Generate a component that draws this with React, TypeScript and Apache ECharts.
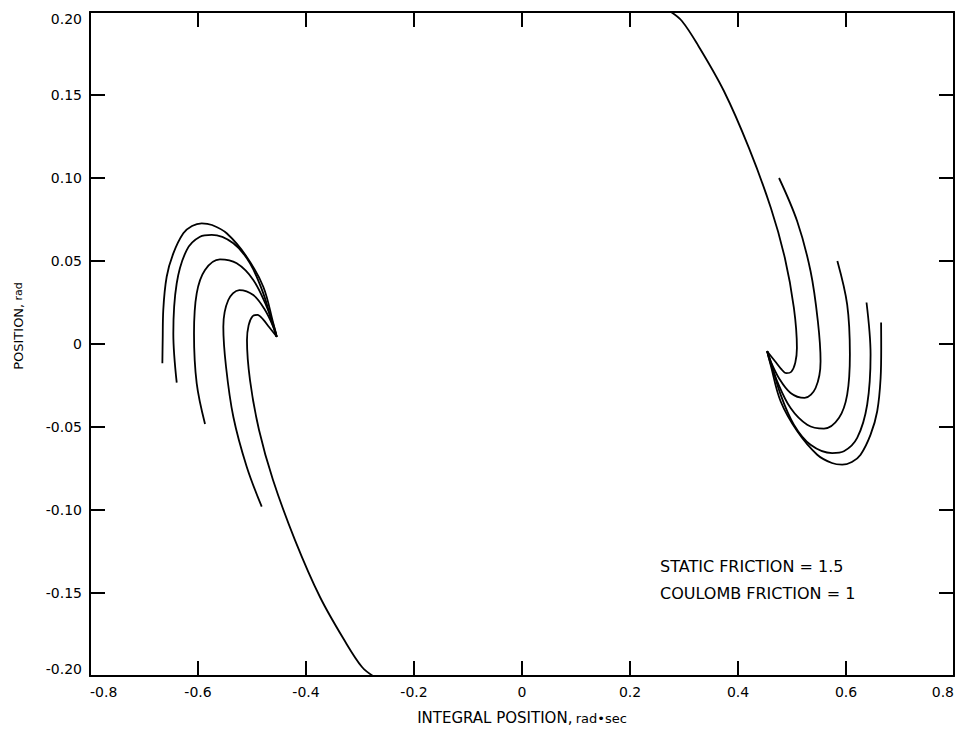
import React, { useEffect, useRef } from "react";
import * as echarts from "echarts";

// Left-hand trajectories (x = integral position, y = position)
const left1: number[][] = [
  [-0.666, -0.0116], [-0.6654, 0.0024], [-0.6643, 0.0205], [-0.658, 0.0405], [-0.6457, 0.0546],
  [-0.6272, 0.0667], [-0.6111, 0.0711], [-0.5931, 0.0727], [-0.5741, 0.0717], [-0.5469, 0.0667],
  [-0.51, 0.0526], [-0.4791, 0.0345], [-0.4606, 0.0125], [-0.4543, 0.0044],
];
const left2: number[][] = [
  [-0.6394, -0.0233], [-0.6457, 0.0064], [-0.6394, 0.0366], [-0.6209, 0.0566], [-0.5963, 0.0646],
  [-0.5746, 0.0657], [-0.5346, 0.0607], [-0.5037, 0.0486], [-0.4791, 0.0305], [-0.4606, 0.0104],
  [-0.4543, 0.0044],
];
const left3: number[][] = [
  [-0.587, -0.0482], [-0.6024, -0.0237], [-0.6074, 0.0064], [-0.6024, 0.0305], [-0.587, 0.0446],
  [-0.5593, 0.051], [-0.5283, 0.0486], [-0.4976, 0.0386], [-0.4728, 0.0225], [-0.4574, 0.0084],
  [-0.4543, 0.0044],
];
const left4: number[][] = [
  [-0.482, -0.098], [-0.5098, -0.0739], [-0.5346, -0.0438], [-0.5481, -0.0137], [-0.5531, 0.0104],
  [-0.5439, 0.0265], [-0.5235, 0.0325], [-0.4976, 0.0295], [-0.4759, 0.0205], [-0.4606, 0.0104],
  [-0.4543, 0.0044],
];
const left5: number[][] = [
  [-0.276, -0.2], [-0.2963, -0.1946], [-0.3259, -0.1801], [-0.3741, -0.1524], [-0.4204, -0.1181],
  [-0.4611, -0.0819], [-0.487, -0.0518], [-0.5037, -0.0217], [-0.5093, 0.0024], [-0.5063, 0.0112],
  [-0.499, 0.0167], [-0.4898, 0.0176], [-0.4795, 0.0148], [-0.4688, 0.0104], [-0.4537, 0.0042],
];

// Right-hand trajectories
const right1: number[][] = [
  [0.665, 0.013], [0.6652, -0.0024], [0.6641, -0.0205], [0.6578, -0.0405], [0.6455, -0.0546],
  [0.627, -0.0667], [0.6109, -0.0711], [0.5929, -0.0727], [0.5739, -0.0717], [0.5467, -0.0667],
  [0.5098, -0.0526], [0.4789, -0.0345], [0.4604, -0.0125], [0.4541, -0.0044],
];
const right2: number[][] = [
  [0.638, 0.025], [0.6455, -0.0064], [0.6392, -0.0366], [0.6207, -0.0566], [0.5961, -0.0646],
  [0.5744, -0.0657], [0.5344, -0.0607], [0.5035, -0.0486], [0.4789, -0.0305], [0.4604, -0.0104],
  [0.4541, -0.0044],
];
const right3: number[][] = [
  [0.584, 0.05], [0.6022, 0.0237], [0.6072, -0.0064], [0.6022, -0.0305], [0.5868, -0.0446],
  [0.5591, -0.051], [0.5281, -0.0486], [0.4974, -0.0386], [0.4726, -0.0225], [0.4572, -0.0084],
  [0.4541, -0.0044],
];
const right4: number[][] = [
  [0.476, 0.1], [0.5096, 0.0739], [0.5344, 0.0438], [0.5479, 0.0137], [0.5529, -0.0104],
  [0.5437, -0.0265], [0.5233, -0.0325], [0.4974, -0.0295], [0.4757, -0.0205], [0.4604, -0.0104],
  [0.4541, -0.0044],
];
const right5: number[][] = [
  [0.276, 0.2], [0.2961, 0.1946], [0.3257, 0.1801], [0.3739, 0.1524], [0.4202, 0.1181],
  [0.4609, 0.0819], [0.4868, 0.0518], [0.5035, 0.0217], [0.5091, -0.0024], [0.5061, -0.0112],
  [0.4988, -0.0167], [0.4896, -0.0176], [0.4793, -0.0148], [0.4686, -0.0104], [0.4535, -0.0042],
];

const curves = [left1, left2, left3, left4, left5, right1, right2, right3, right4, right5];

const xTicks = { min: -0.8, max: 0.8, interval: 0.2 };
const yTicks = { min: -0.2, max: 0.2, interval: 0.05 };

const xLabel = "INTEGRAL POSITION,";
const xUnit = "rad\u2022sec";
const yLabel = "POSITION,";
const yUnit = "rad";
const noteLines = ["STATIC FRICTION = 1.5", "COULOMB FRICTION = 1"];

const FONT = "DejaVu Sans";

export default function App() {
  const ref = useRef<HTMLDivElement>(null);
  useEffect(() => {
    if (!ref.current) return;
    const chart = echarts.init(ref.current, undefined, { renderer: "svg" });
    const axisLine = { show: true, onZero: false, lineStyle: { color: "#000", width: 2 } };
    const axisTick = { show: true, inside: true, length: 15, lineStyle: { color: "#000", width: 2 } };
    const fmtX = (v: number) => (Math.abs(v) < 1e-9 ? "0" : v.toFixed(1));
    const fmtY = (v: number) => (Math.abs(v) < 1e-9 ? "0" : v.toFixed(2));
    chart.setOption({
      animation: false,
      backgroundColor: "#fff",
      grid: { left: 90, right: 6, top: 12, bottom: 54, containLabel: false },
      xAxis: [
        {
          type: "value", position: "bottom", ...xTicks,
          axisLine, axisTick, splitLine: { show: false },
          axisLabel: {
            formatter: fmtX, color: "#000", fontFamily: FONT, fontSize: 14, margin: 9,
            alignMinLabel: "left", alignMaxLabel: "right",
          },
        },
        {
          type: "value", position: "top", ...xTicks,
          axisLine, axisTick, splitLine: { show: false }, axisLabel: { show: false },
        },
      ],
      yAxis: [
        {
          type: "value", position: "left", ...yTicks,
          axisLine, axisTick, splitLine: { show: false },
          axisLabel: {
            formatter: fmtY, color: "#000", fontFamily: FONT, fontSize: 14, margin: 8,
            verticalAlignMinLabel: "bottom", verticalAlignMaxLabel: "top",
          },
        },
        {
          type: "value", position: "right", ...yTicks,
          axisLine, axisTick, splitLine: { show: false }, axisLabel: { show: false },
        },
      ],
      series: curves.map((c) => ({
        type: "line",
        data: c,
        showSymbol: false,
        smooth: 0.35,
        clip: true,
        lineStyle: { color: "#000", width: 1.8 },
        xAxisIndex: 0,
        yAxisIndex: 0,
      })),
      graphic: [
        {
          type: "text", x: 522, y: 718,
          style: {
            text: `{a|${xLabel}} {b|${xUnit}}`, align: "center", verticalAlign: "middle",
            rich: {
              a: { fontFamily: FONT, fontSize: 15, fill: "#000" },
              b: { fontFamily: FONT, fontSize: 13, fill: "#000" },
            },
          },
        },
        {
          type: "text", x: 18, y: 326, rotation: Math.PI / 2,
          style: {
            text: `{a|${yLabel}} {b|${yUnit}}`, align: "center", verticalAlign: "middle",
            rich: {
              a: { fontFamily: FONT, fontSize: 13, fill: "#000" },
              b: { fontFamily: FONT, fontSize: 11, fill: "#000" },
            },
          },
        },
        ...noteLines.map((t, i) => ({
          type: "text", x: 660, y: 566 + i * 27,
          style: { text: t, fontFamily: FONT, fontSize: 16, fill: "#000", verticalAlign: "middle" },
        })),
      ],
    });
    return () => chart.dispose();
  }, []);
  return (
    <div
      ref={ref}
      style={{ position: "fixed", left: 0, top: 0, width: 960, height: 730 }}
    />
  );
}
